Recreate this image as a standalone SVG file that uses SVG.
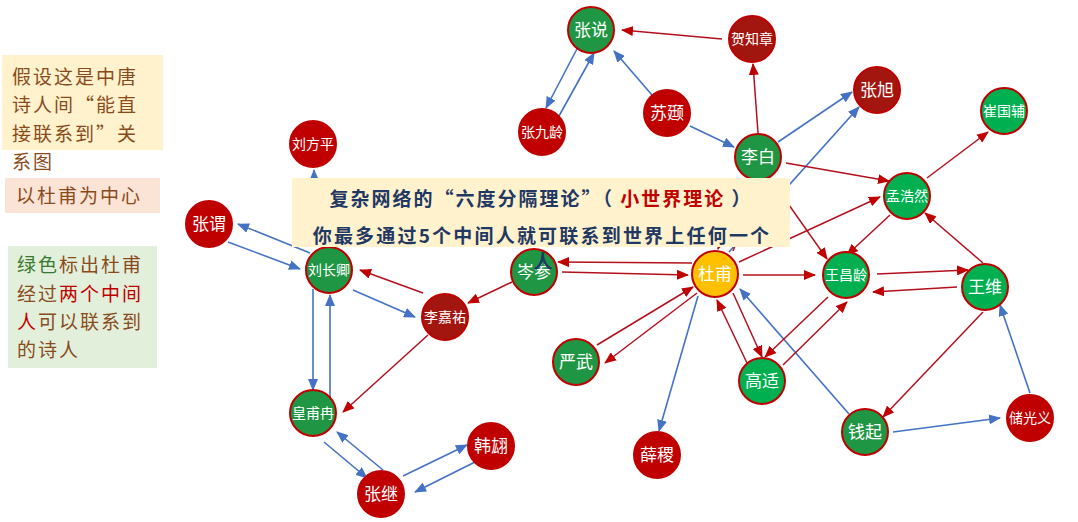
<svg xmlns="http://www.w3.org/2000/svg" width="1078" height="522" viewBox="0 0 1078 522">
<style>
.b{stroke:#4472C4;stroke-width:1.6;fill:none;marker-end:url(#ab)}
.r{stroke:#B4101E;stroke-width:1.5;fill:none;marker-end:url(#ar)}
.n circle{stroke:#C00000;stroke-width:2}
.g1{fill:#1F9643}.g2{fill:#00B050}.rd{fill:#C00000}.dr{fill:#A3160F}.y{fill:#FFC000}
.n text{fill:#fff;font-family:"Noto Sans CJK SC","Noto Sans",sans-serif;text-anchor:middle}
.t2{font-size:17px}.t3{font-size:14px}
.lt{font-family:"Noto Sans CJK SC","Noto Sans",sans-serif;font-size:19px;letter-spacing:2px;fill:#8A4B1C}
.ct{font-family:"Noto Sans CJK SC","Noto Sans",sans-serif;font-size:19px;font-weight:bold;fill:#1F3864;text-anchor:middle}
</style>
<defs>
<marker id="ab" markerWidth="12" markerHeight="10" refX="11" refY="5" orient="auto" markerUnits="userSpaceOnUse"><path d="M0,0 L12,5 L0,10 Z" fill="#4472C4"/></marker>
<marker id="ar" markerWidth="12" markerHeight="10" refX="11" refY="5" orient="auto" markerUnits="userSpaceOnUse"><path d="M0,0 L12,5 L0,10 Z" fill="#C00000"/></marker>
</defs>
<rect width="1078" height="522" fill="#fff"/>
<g id="legend">
<rect x="2" y="55" width="161" height="95" fill="#FFF2CC"/>
<text class="lt" x="12" y="84">假设这是中唐</text>
<text class="lt" x="12" y="112">诗人间“能直</text>
<text class="lt" x="12" y="141">接联系到”关</text>
<text class="lt" x="12" y="169">系图</text>
<rect x="5" y="178" width="155" height="35" fill="#FBE3D6"/>
<text class="lt" x="16" y="203">以杜甫为中心</text>
<rect x="8" y="246" width="149" height="122" fill="#E2EFDA"/>
<text class="lt" x="17" y="272"><tspan fill="#3A7A30">绿色</tspan>标出杜甫</text>
<text class="lt" x="17" y="301">经过<tspan fill="#C00000">两个中间</tspan></text>
<text class="lt" x="17" y="329"><tspan fill="#C00000">人</tspan>可以联系到</text>
<text class="lt" x="17" y="357">的诗人</text>
</g>
<g id="connectors">
<path class="b" d="M578,47 L546,108"/>
<path class="b" d="M559,116 L594,53"/>
<path class="b" d="M652,95 L614,51"/>
<path class="b" d="M690,126 L734,147"/>
<path class="b" d="M778,142 L852,92"/>
<path class="b" d="M729,252 L859,107"/>
<path class="b" d="M698,296 L659,431"/>
<path class="b" d="M849,414 L740,289"/>
<path class="b" d="M893,432 L1000,418"/>
<path class="b" d="M1030,393 L1000,305"/>
<path class="b" d="M228,242 L300,269"/>
<path class="b" d="M310,253 L238,224"/>
<path class="b" d="M316,247 L314,170"/>
<path class="b" d="M353,290 L415,317"/>
<path class="b" d="M313,289 L313,390"/>
<path class="b" d="M330,397 L330,295"/>
<path class="b" d="M324,442 L367,478"/>
<path class="b" d="M383,470 L337,432"/>
<path class="b" d="M403,476 L467,445"/>
<path class="b" d="M475,462 L415,492"/>
<path class="r" d="M722,39 L622,30"/>
<path class="r" d="M758,133 L753,64"/>
<path class="r" d="M786,163 L889,181"/>
<path class="r" d="M770,178 L827,259"/>
<path class="r" d="M739,262 L880,197"/>
<path class="r" d="M890,215 L847,255"/>
<path class="r" d="M927,178 L988,132"/>
<path class="r" d="M983,263 L925,213"/>
<path class="r" d="M877,274 L968,270"/>
<path class="r" d="M957,287 L873,292"/>
<path class="r" d="M983,312 L883,417"/>
<path class="r" d="M743,275 L815,275"/>
<path class="r" d="M692,263 L558,262"/>
<path class="r" d="M562,272 L688,275"/>
<path class="r" d="M512,282 L468,303"/>
<path class="r" d="M423,293 L360,270"/>
<path class="r" d="M428,335 L343,412"/>
<path class="r" d="M597,345 L693,287"/>
<path class="r" d="M697,293 L605,363"/>
<path class="r" d="M733,293 L762,357"/>
<path class="r" d="M747,363 L717,300"/>
<path class="r" d="M828,297 L765,357"/>
<path class="r" d="M783,365 L847,302"/>
<path class="r" d="M746,180 L718,249"/>
<path class="r" d="M733,251 L760,182"/>
</g>
<g id="n-zhangyue" class="n"><circle class="g1" cx="591" cy="30" r="23"/><text class="t2" x="591" y="36">张说</text></g>
<g id="n-hezhizhang" class="n"><circle class="dr" cx="752" cy="39" r="23"/><text class="t3" x="752" y="44">贺知章</text></g>
<g id="n-zhangjiuling" class="n"><circle class="rd" cx="542" cy="132" r="23"/><text class="t3" x="542" y="137">张九龄</text></g>
<g id="n-suting" class="n"><circle class="rd" cx="667" cy="113" r="23"/><text class="t2" x="667" y="119">苏颋</text></g>
<g id="n-libai" class="n"><circle class="g1" cx="758" cy="157" r="23"/><text class="t2" x="758" y="163">李白</text></g>
<g id="n-zhangxu" class="n"><circle class="dr" cx="877" cy="90" r="23"/><text class="t2" x="877" y="96">张旭</text></g>
<g id="n-cuiguofu" class="n"><circle class="g2" cx="1004" cy="111" r="23"/><text class="t3" x="1004" y="116">崔国辅</text></g>
<g id="n-liufangping" class="n"><circle class="rd" cx="313" cy="144" r="23"/><text class="t3" x="313" y="149">刘方平</text></g>
<g id="n-menghaoran" class="n"><circle class="g2" cx="907" cy="196" r="23"/><text class="t3" x="907" y="201">孟浩然</text></g>
<g id="n-zhangwei" class="n"><circle class="rd" cx="209" cy="224" r="23"/><text class="t2" x="209" y="230">张谓</text></g>
<g id="n-liuchangqing" class="n"><circle class="g1" cx="329" cy="270" r="23"/><text class="t3" x="329" y="275">刘长卿</text></g>
<g id="n-censhen" class="n"><circle class="g1" cx="534" cy="272" r="23"/><text class="t2" x="534" y="278">岑参</text></g>
<g id="n-dufu" class="n"><circle class="y" cx="715" cy="274" r="23"/><text class="t2" x="715" y="280">杜甫</text></g>
<g id="n-wangchangling" class="n"><circle class="g2" cx="846" cy="275" r="23"/><text class="t3" x="846" y="280">王昌龄</text></g>
<g id="n-wangwei" class="n"><circle class="g2" cx="985" cy="287" r="23"/><text class="t2" x="985" y="293">王维</text></g>
<g id="n-lijiayou" class="n"><circle class="dr" cx="445" cy="317" r="23"/><text class="t3" x="445" y="322">李嘉祐</text></g>
<g id="n-yanwu" class="n"><circle class="g1" cx="576" cy="362" r="23"/><text class="t2" x="576" y="368">严武</text></g>
<g id="n-gaoshi" class="n"><circle class="g2" cx="762" cy="381" r="23"/><text class="t2" x="762" y="387">高适</text></g>
<g id="n-huangfuran" class="n"><circle class="g1" cx="313" cy="413" r="23"/><text class="t3" x="313" y="418">皇甫冉</text></g>
<g id="n-qianqi" class="n"><circle class="g1" cx="865" cy="432" r="23"/><text class="t2" x="865" y="438">钱起</text></g>
<g id="n-chuguangyi" class="n"><circle class="rd" cx="1030" cy="418" r="23"/><text class="t3" x="1030" y="423">储光义</text></g>
<g id="n-hanhong" class="n"><circle class="rd" cx="491" cy="446" r="23"/><text class="t2" x="491" y="452">韩翃</text></g>
<g id="n-xueji" class="n"><circle class="rd" cx="657" cy="455" r="23"/><text class="t2" x="657" y="461">薛稷</text></g>
<g id="n-zhangji" class="n"><circle class="rd" cx="381" cy="494" r="23"/><text class="t2" x="381" y="500">张继</text></g>
<g id="callout">
<rect x="292" y="178" width="498" height="69" fill="#FFF2CC"/>
<text class="ct" x="541" y="206" letter-spacing="2">复杂网络的“六度分隔理论”（ <tspan fill="#C00000">小世界理论</tspan> ）</text>
<text class="ct" x="542" y="243" letter-spacing="2.2">你最多通过5个中间人就可联系到世界上任何一个</text>
<text class="ct" x="543" y="269" font-weight="normal">人</text>
</g>
</svg>
